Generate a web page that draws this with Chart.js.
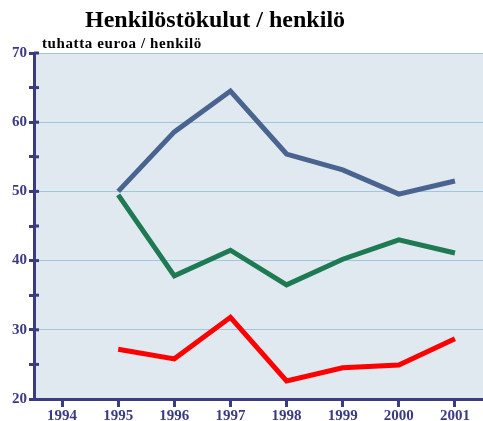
<!DOCTYPE html>
<html>
<head>
<meta charset="utf-8">
<script src="https://cdn.jsdelivr.net/npm/chart.js@4.4.1/dist/chart.umd.min.js"></script>
<style>
  body { margin: 0; background: #fff; }
  #wrap { width: 483px; height: 421px; }
</style>
</head>
<body>
<div id="wrap"><canvas id="chart" width="483" height="421"></canvas></div>
<script>
// data
const years = ["1994", "1995", "1996", "1997", "1998", "1999", "2000", "2001"];
const blueSeries = [null, 50.0, 58.6, 64.5, 55.4, 53.1, 49.6, 51.5];
const greenSeries = [null, 49.5, 37.8, 41.5, 36.5, 40.2, 43.0, 41.1];
const redSeries = [null, 27.2, 25.8, 31.8, 22.6, 24.5, 24.9, 28.7];

const titleText = "Henkilöstökulut / henkilö";
const unitText = "tuhatta euroa / henkilö";

const navy = "#3b3b82";
const serif = "'Liberation Serif', 'Times New Roman', serif";

// plot background + inner half of the y tick marks + titles
const decor = {
    id: "decor",
    beforeDraw(chart) {
        const a = chart.chartArea, ctx = chart.ctx;
        ctx.save();
        ctx.fillStyle = "#e0e8f0";
        ctx.fillRect(a.left, a.top, a.right - a.left, a.bottom - a.top);
        ctx.restore();
    },
    afterDraw(chart) {
        const ctx = chart.ctx, y = chart.scales.y, a = chart.chartArea;
        ctx.save();
        ctx.strokeStyle = navy;
        ctx.lineWidth = 3;
        for (let v = 25; v <= 70; v += 5) {
            const py = y.getPixelForValue(v);
            ctx.beginPath();
            ctx.moveTo(a.left, py);
            ctx.lineTo(a.left + 5, py);
            ctx.stroke();
        }
        ctx.fillStyle = "#000";
        ctx.textAlign = "center";
        ctx.textBaseline = "alphabetic";
        ctx.font = "bold 24px " + serif;
        ctx.fillText(titleText, 215, 27);
        ctx.textAlign = "left";
        ctx.font = "bold 15px " + serif;
        ctx.letterSpacing = "0.6px";
        ctx.fillText(unitText, 42, 48);
        ctx.restore();
    }
};

function lineSet(label, data, color) {
    return {
        label: label,
        data: data,
        borderColor: color,
        backgroundColor: color,
        borderWidth: 5,
        pointRadius: 0,
        tension: 0,
        borderJoinStyle: "miter"
    };
}

new Chart(document.getElementById("chart"), {
    type: "line",
    data: {
        labels: years,
        datasets: [
            lineSet("A", blueSeries, "#4a6490"),
            lineSet("B", greenSeries, "#1d7a52"),
            lineSet("C", redSeries, "#ff0000")
        ]
    },
    options: {
        responsive: false,
        animation: false,
        layout: { padding: { top: 53, right: -2 } },
        plugins: {
            legend: { display: false },
            tooltip: { enabled: false }
        },
        scales: {
            x: {
                offset: true,
                afterFit: s => { s.height = 22; },
                border: { color: navy, width: 3 },
                grid: {
                    offset: false,
                    drawOnChartArea: false,
                    tickColor: navy,
                    tickWidth: 3,
                    tickLength: 8
                },
                ticks: {
                    color: navy,
                    padding: 0,
                    maxRotation: 0,
                    font: { family: serif, size: 15, weight: "bold" }
                }
            },
            y: {
                min: 20,
                max: 70,
                afterFit: s => { s.width = 34; },
                border: { color: navy, width: 3 },
                grid: {
                    color: ctx => (ctx.tick && ctx.tick.value % 10 === 0 ? "#a3c5dc" : "rgba(0,0,0,0)"),
                    lineWidth: 1,
                    tickColor: navy,
                    tickWidth: 3,
                    tickLength: 5
                },
                ticks: {
                    stepSize: 5,
                    color: navy,
                    padding: 2,
                    callback: v => (v % 10 === 0 ? v : ""),
                    font: { family: serif, size: 15, weight: "bold" }
                }
            }
        }
    },
    plugins: [decor]
});
</script>
</body>
</html>
